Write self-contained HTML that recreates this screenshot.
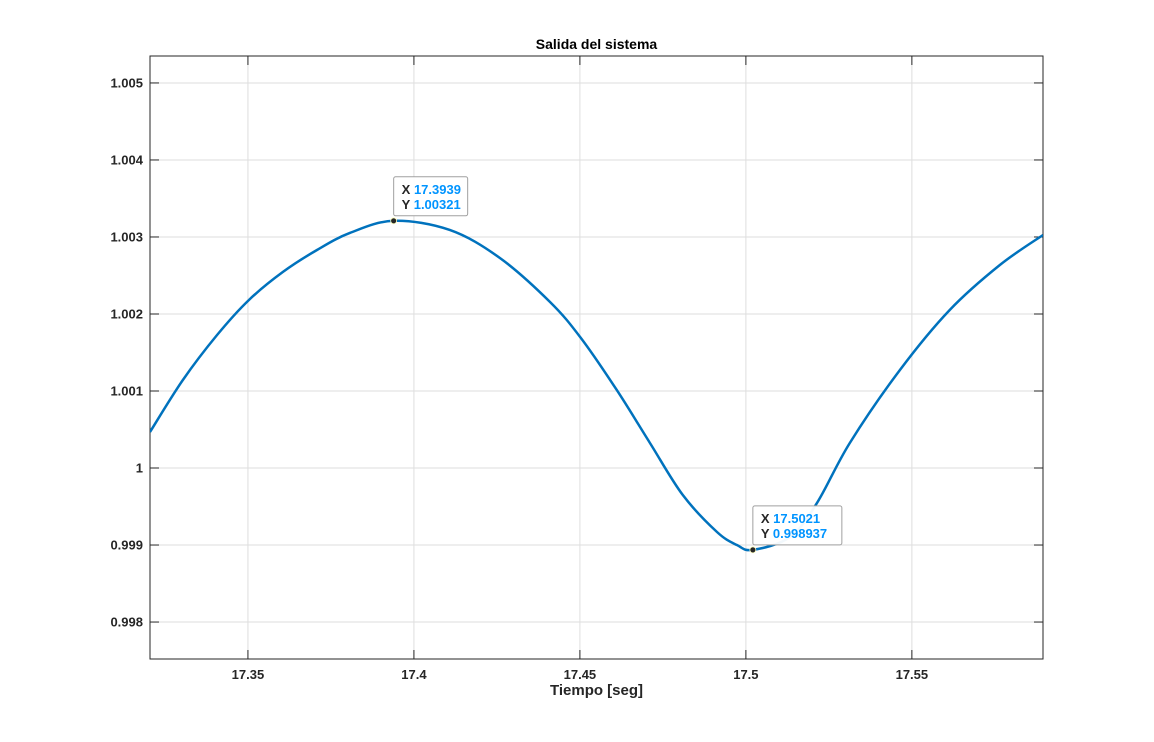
<!DOCTYPE html>
<html><head><meta charset="utf-8"><style>
body{margin:0;background:#fff;}
svg{display:block;font-family:"Liberation Sans",Arial,sans-serif;}
</style></head><body>
<svg id="chart" width="1154" height="742"></svg>
<script>
const xTicks=[17.35,17.4,17.45,17.5,17.55];
const xTickLabels=["17.35","17.4","17.45","17.5","17.55"];
const yTicks=[0.998,0.999,1,1.001,1.002,1.003,1.004,1.005];
const yTickLabels=["0.998","0.999","1","1.001","1.002","1.003","1.004","1.005"];
const tVals=[17.3205,17.3304,17.3407,17.3503,17.3605,17.3708,17.3807,17.3939,17.4108,17.4259,17.4410,17.4503,17.4611,17.4711,17.4810,17.4913,17.4973,17.5021,17.5133,17.5214,17.5313,17.5464,17.5614,17.5765,17.5895];
const yVals=[1.000468,1.001143,1.001727,1.002182,1.002545,1.002831,1.003052,1.00321,1.003091,1.002727,1.002156,1.001688,1.001013,1.000325,0.999649,0.999169,0.999,0.998937,0.999104,0.999545,1.000325,1.001273,1.002052,1.002636,1.003026];
const tips=[{x:17.3939,y:1.00321,xl:"17.3939",yl:"1.00321"},{x:17.5021,y:0.998937,xl:"17.5021",yl:"0.998937"}];

const L=150,R=1043,T=56,B=659,x0=17.3205,x1=17.5895,y0=0.99752,y1=1.00535;
const sx=v=>L+(v-x0)/(x1-x0)*(R-L);
const sy=v=>B-(v-y0)/(y1-y0)*(B-T);
const svg=document.getElementById('chart');
const NS='http://www.w3.org/2000/svg';
function mk(tag,attrs,parent){const e=document.createElementNS(NS,tag);for(const k in attrs)e.setAttribute(k,attrs[k]);(parent||svg).appendChild(e);return e;}

const grid=mk('g',{});


xTicks.forEach((v,i)=>{
  mk('line',{x1:sx(v),x2:sx(v),y1:T,y2:B,stroke:'#dedede','stroke-width':1},grid);
  mk('line',{x1:sx(v),x2:sx(v),y1:B,y2:B-9,stroke:'#262626'});
  const t=mk('text',{x:sx(v),y:B+20,'text-anchor':'middle','font-size':13,'font-weight':'bold',fill:'#262626'});
  
  
  t.textContent=xTickLabels[i];
  mk('line',{x1:sx(v),x2:sx(v),y1:T,y2:T+9,stroke:'#262626'});
});
yTicks.forEach((v,i)=>{
  mk('line',{x1:L,x2:R,y1:sy(v),y2:sy(v),stroke:'#dedede','stroke-width':1},grid);
  mk('line',{x1:L,x2:L+9,y1:sy(v),y2:sy(v),stroke:'#262626'});
  mk('line',{x1:R,x2:R-9,y1:sy(v),y2:sy(v),stroke:'#262626'});
  const t=mk('text',{x:L-7,y:sy(v)+4.5,'text-anchor':'end','font-size':13,'font-weight':'bold',fill:'#262626'});
  
  
  t.textContent=yTickLabels[i];
});
const box=mk('rect',{x:L,y:T,width:R-L,height:B-T,fill:'none',stroke:'#262626','stroke-width':1});



const P=tVals.map((t,i)=>[sx(t),sy(yVals[i])]);
let d='M'+P[0][0]+','+P[0][1];
for(let i=0;i<P.length-1;i++){
  const p0=P[Math.max(0,i-1)],p1=P[i],p2=P[i+1],p3=P[Math.min(P.length-1,i+2)];
  const c1=[p1[0]+(p2[0]-p0[0])/6,p1[1]+(p2[1]-p0[1])/6];
  const c2=[p2[0]-(p3[0]-p1[0])/6,p2[1]-(p3[1]-p1[1])/6];
  d+=`C${c1[0]},${c1[1]} ${c2[0]},${c2[1]} ${p2[0]},${p2[1]}`;
}
const cp=mk('clipPath',{id:'cp'});mk('rect',{x:L,y:T,width:R-L,height:B-T},cp);
const line=mk('path',{d:d,fill:'none',stroke:'#0072bd','stroke-width':2.5,'clip-path':'url(#cp)'});



tips.forEach(tp=>{
  const px=sx(tp.x),py=sy(tp.y);
  const g=mk('g',{});
  
  
  const w=tp.yl.length>7?89:74;
  mk('rect',{x:px,y:py-44,width:w,height:39,rx:2,fill:'#fff','fill-opacity':0.95,stroke:'#a0a0a0'},g);
  const a=mk('text',{x:px+8,y:py-27,'font-size':13,'font-weight':'bold',fill:'#262626'},g);a.textContent='X ';
  const av=mk('tspan',{fill:'#0094ff'},a);av.textContent=tp.xl;
  const b=mk('text',{x:px+8,y:py-12,'font-size':13,'font-weight':'bold',fill:'#262626'},g);b.textContent='Y ';
  const bv=mk('tspan',{fill:'#0094ff'},b);bv.textContent=tp.yl;
  mk('circle',{cx:px,cy:py,r:3,fill:'#262626',stroke:'#ffffc0','stroke-width':0.8},g);
});

const title=mk('text',{x:(L+R)/2,y:49,'text-anchor':'middle','font-size':14,'font-weight':'bold',fill:'#000'});


title.textContent='Salida del sistema';
const xl=mk('text',{x:(L+R)/2,y:695,'text-anchor':'middle','font-size':15,'font-weight':'bold',fill:'#262626'});


xl.textContent='Tiempo [seg]';
</script>
</body></html>
